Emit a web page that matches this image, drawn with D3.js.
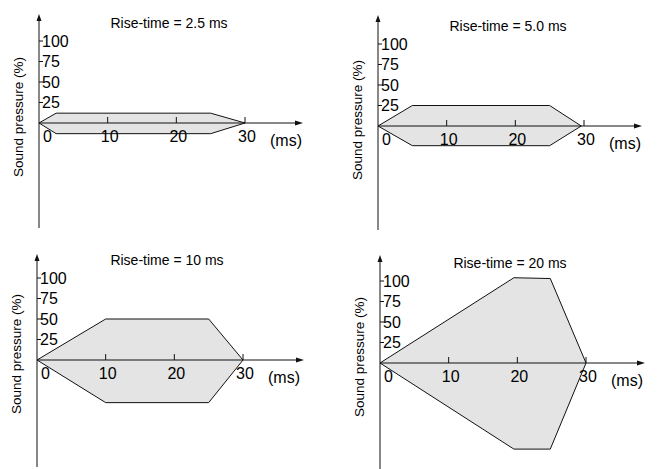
<!DOCTYPE html>
<html>
<head>
<meta charset="utf-8">
<script src="https://cdn.jsdelivr.net/npm/d3@7"></script>
<style>
  body { margin: 0; background: #fff; }
  svg { display: block; font-family: "Liberation Sans", Arial, sans-serif; }
</style>
</head>
<body>
<svg id="chart" width="661" height="469"></svg>
<script>
// Envelope data per panel: [time (ms), sound pressure (%)]
const titles = ['Rise-time = 2.5 ms', 'Rise-time = 5.0 ms', 'Rise-time = 10 ms', 'Rise-time = 20 ms'];
const env25 = [[0, 0], [2.5, 12], [25, 12], [30, 0], [25, -13], [2.5, -13]];
const env50 = [[0, 0], [5, 25], [25, 25], [29.6, 0], [25, -24], [5, -24]];
const env10 = [[0, 0], [10, 50], [25, 50], [30, 0], [25, -52], [10, -52]];
const env20 = [[0, 0], [19.5, 104], [24.8, 103], [30, 0], [24.8, -105], [19.5, -105]];
const envelopes = [env25, env50, env10, env20];
const xTicks = [10, 20, 30];
const yTicks = [25, 50, 75, 100];

// Panel origins (axis crossing) and extents in pixels
const panels = [
    { ox: 39, oy: 123, top: 14, bottom: 228, right: 303 },
    { ox: 378, oy: 126, top: 15, bottom: 230, right: 642 },
    { ox: 37, oy: 360, top: 254, bottom: 467, right: 304 },
    { ox: 380, oy: 363, top: 255, bottom: 469, right: 645 }
];

const svg = d3.select('#chart');

panels.forEach((p, i) => {
    const g = svg.append('g');

    const x = d3.scaleLinear().domain([0, 30]).range([p.ox, p.ox + 206]);
    const y = d3.scaleLinear().domain([0, 100]).range([p.oy, p.oy - 82]);

    // Envelope polygon
    g.append('path')
        .datum(envelopes[i])
        .attr('d', d3.line().x(d => x(d[0])).y(d => y(d[1])).curve(d3.curveLinearClosed))
        .attr('fill', '#e4e4e4')
        .attr('stroke', '#111')
        .attr('stroke-width', 1);

    // Axes lines
    g.append('line')
        .attr('x1', p.ox).attr('x2', p.ox)
        .attr('y1', p.bottom).attr('y2', p.top + 4)
        .attr('stroke', '#111').attr('stroke-width', 1);
    g.append('line')
        .attr('x1', p.ox).attr('x2', p.right - 4)
        .attr('y1', p.oy).attr('y2', p.oy)
        .attr('stroke', '#111').attr('stroke-width', 1);

    // Arrowheads
    g.append('path')
        .attr('d', `M${p.ox},${p.top} L${p.ox - 2.5},${p.top + 7} L${p.ox + 2.5},${p.top + 7} Z`)
        .attr('fill', '#111');
    g.append('path')
        .attr('d', `M${p.right},${p.oy} L${p.right - 8},${p.oy - 2.5} L${p.right - 8},${p.oy + 2.5} Z`)
        .attr('fill', '#111');

    // X ticks (upward) and labels
    g.selectAll('.xt')
        .data(xTicks)
        .join('line')
        .attr('x1', d => x(d)).attr('x2', d => x(d))
        .attr('y1', p.oy).attr('y2', p.oy - 6)
        .attr('stroke', '#111').attr('stroke-width', 1);

    g.selectAll('.xl')
        .data(xTicks)
        .join('text')
        .attr('x', d => x(d) + 2)
        .attr('y', p.oy + 19)
        .attr('text-anchor', 'middle')
        .attr('font-size', 16)
        .text(d => d);

    g.append('text')
        .attr('x', p.ox + 4)
        .attr('y', p.oy + 19)
        .attr('font-size', 16)
        .text('0');

    g.append('text')
        .attr('x', p.ox + 231)
        .attr('y', p.oy + 23)
        .attr('font-size', 16)
        .text('(ms)');

    // Y ticks (to the right) and labels
    g.selectAll('.yt')
        .data(yTicks)
        .join('line')
        .attr('x1', p.ox).attr('x2', p.ox + 4)
        .attr('y1', d => y(d)).attr('y2', d => y(d))
        .attr('stroke', '#111').attr('stroke-width', 1);

    g.selectAll('.yl')
        .data(yTicks)
        .join('text')
        .attr('x', p.ox + 3)
        .attr('y', d => y(d))
        .attr('dy', '0.36em')
        .attr('font-size', 16)
        .text(d => d);

    // Title
    g.append('text')
        .attr('x', p.ox + 130)
        .attr('y', p.oy - 95)
        .attr('text-anchor', 'middle')
        .attr('font-size', 14)
        .text(titles[i]);

    // Y axis label
    g.append('text')
        .attr('transform', `translate(${p.ox - 16},${p.oy - 6}) rotate(-90)`)
        .attr('text-anchor', 'middle')
        .attr('font-size', 13.5)
        .text('Sound pressure (%)');
});
</script>
</body>
</html>
